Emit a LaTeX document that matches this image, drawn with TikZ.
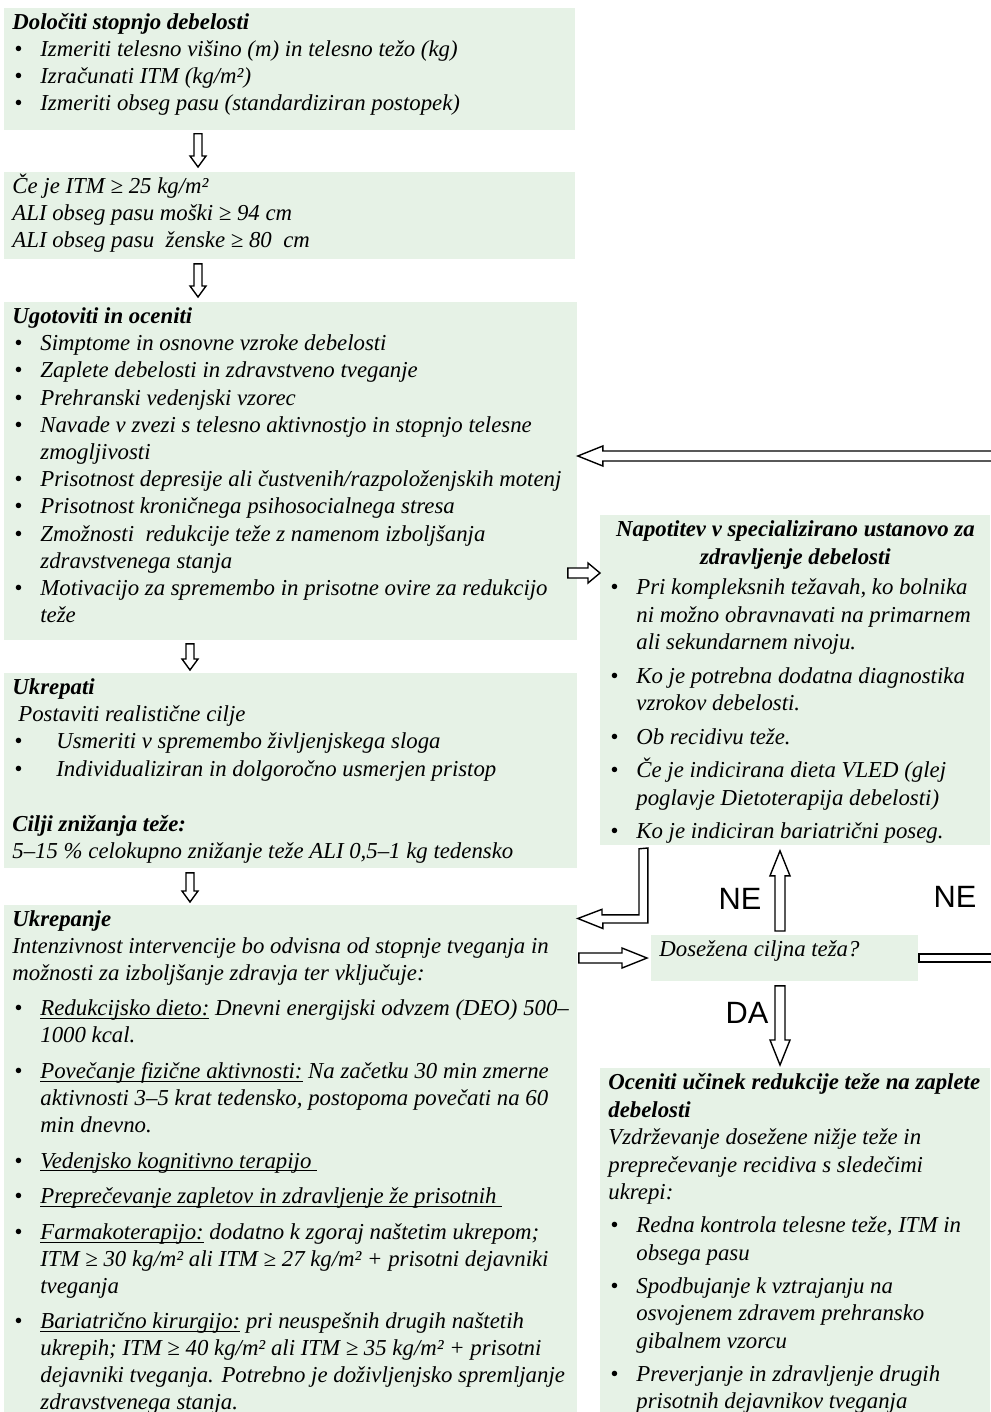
\documentclass[tikz,border=0pt]{standalone}
\usepackage{fontspec}
\setmainfont{Liberation Serif}
\setsansfont{Liberation Sans}
\usetikzlibrary{calc}
\definecolor{BoxGreen}{HTML}{E6F2E6}

\newlength{\bulskip}
\newsavebox{\ulbox}
\newcommand{\uln}[1]{\sbox\ulbox{#1}\makebox[0pt][l]{\rule[-1.6pt]{\wd\ulbox}{0.5pt}}\usebox\ulbox}
\newcommand{\bul}[1]{\par\vspace{\bulskip}\hangindent=14pt\hangafter=1\noindent\makebox[14pt][l]{\hspace{1pt}\textbullet}#1}
\newcommand{\bulw}[1]{\par\vspace{\bulskip}\hangindent=22pt\hangafter=1\noindent\makebox[22pt][l]{\hspace{1pt}\textbullet}#1}
\newcommand{\boxtext}[3]{\parbox[t][#2][t]{#1}{\raggedright\rightskip=-6pt plus 1fil\strut #3}}

\begin{document}
\begin{tikzpicture}[x=0.5pt, y=-0.5pt,
  panel/.style={fill=BoxGreen, anchor=north west, inner xsep=4pt, inner ysep=1pt,
    font=\fontsize{11.4}{13.5}\selectfont\itshape},
  panelm/.style={panel, font=\fontsize{11.4}{13.6}\selectfont\itshape},
  panelr/.style={panel, font=\fontsize{11.4}{13.75}\selectfont\itshape},
  outline/.style={draw=black, fill=white, line width=0.7pt},
  hollow/.style n args={3}{outline, to path={
    let \p1=(\tikztostart), \p2=(\tikztotarget), \p3=($(\p2)!#3!(\p1)$) in
    ($(\p1)!#1!90:(\p2)$) -- ($(\p3)!#1!-90:(\p1)$) -- ($(\p3)!#2!-90:(\p1)$) -- (\p2)
    -- ($(\p3)!#2!90:(\p1)$) -- ($(\p3)!#1!90:(\p1)$) -- ($(\p1)!#1!-90:(\p2)$) -- cycle}},
  thin/.style={hollow={2pt}{4pt}{5.5pt}},
  wide/.style={hollow={2.5pt}{5pt}{12.5pt}},
  yesno/.style={font=\sffamily\fontsize{15.4}{18}\selectfont, inner sep=0pt}
]
\useasboundingbox (0,0) rectangle (990,1412);

% left column
\node[panel] (b1) at (4,8) {\boxtext{277.5pt}{59pt}{\textbf{Določiti stopnjo debelosti}
  \bul{Izmeriti telesno višino (m) in telesno težo (kg)}
  \bul{Izračunati ITM (kg/m²)}
  \bul{Izmeriti obseg pasu (standardiziran postopek)}}};
\node[panel] (b2) at (4,172) {\boxtext{277.5pt}{41.5pt}{Če je ITM ≥ 25 kg/m²\newline
  ALI obseg pasu moški ≥ 94 cm\newline
  ALI obseg pasu \ ženske ≥ 80 \ cm}};
\node[panelm] (b3) at (4,302) {\boxtext{278.5pt}{167pt}{\textbf{Ugotoviti in oceniti}
  \bul{Simptome in osnovne vzroke debelosti}
  \bul{Zaplete debelosti in zdravstveno tveganje}
  \bul{Prehranski vedenjski vzorec}
  \bul{Navade v zvezi s telesno aktivnostjo in stopnjo telesne\newline zmogljivosti}
  \bul{Prisotnost depresije ali čustvenih/razpoloženjskih motenj}
  \bul{Prisotnost kroničnega psihosocialnega stresa}
  \bul{Zmožnosti \ redukcije teže z namenom izboljšanja\newline zdravstvenega stanja}
  \bul{Motivacijo za spremembo in prisotne ovire za redukcijo\newline teže}}};
\node[panelm] (b5) at (4,673) {\boxtext{278.5pt}{95.5pt}{\textbf{Ukrepati}\par
  \hspace*{3pt}Postaviti realistične cilje
  \bulw{Usmeriti v spremembo življenjskega sloga}
  \bulw{Individualiziran in dolgoročno usmerjen pristop}\par
  \vspace{14pt}\textbf{Cilji znižanja teže:}\par
  5–15 \% celokupno znižanje teže ALI 0,5–1 kg tedensko}};
\node[panel] (b6) at (4,905) {\boxtext{278.5pt}{256.5pt}{\setlength{\bulskip}{4.3pt}\textbf{Ukrepanje}\par
  Intenzivnost intervencije bo odvisna od stopnje tveganja in\newline
  možnosti za izboljšanje zdravja ter vključuje:
  \bul{\uln{Redukcijsko dieto:} Dnevni energijski odvzem (DEO) 500–\newline 1000 kcal.}
  \bul{\uln{Povečanje fizične aktivnosti:} Na začetku 30 min zmerne\newline
    aktivnosti 3–5 krat tedensko, postopoma povečati na 60\newline min dnevno.}
  \bul{\uln{Vedenjsko kognitivno terapijo\ }}
  \bul{\uln{Preprečevanje zapletov in zdravljenje že prisotnih\ }}
  \bul{\uln{Farmakoterapijo:} dodatno k zgoraj naštetim ukrepom;\newline
    ITM ≥ 30 kg/m² ali ITM ≥ 27 kg/m² + prisotni dejavniki\newline tveganja}
  \bul{\uln{Bariatrično kirurgijo:} pri neuspešnih drugih naštetih\newline
    ukrepih; ITM ≥ 40 kg/m² ali ITM ≥ 35 kg/m² + prisotni\newline
    dejavniki tveganja. Potrebno je doživljenjsko spremljanje\newline
    zdravstvenega stanja.}}};

% right column
\node[panelr] (b4) at (600,515) {\boxtext{187pt}{163pt}{\setlength{\bulskip}{3pt}%
  {\centering\bfseries Napotitev v specializirano ustanovo za\\ zdravljenje debelosti\par}
  \vspace{-1.5pt}
  \bul{Pri kompleksnih težavah, ko bolnika\newline ni možno obravnavati na primarnem\newline ali sekundarnem nivoju.}
  \bul{Ko je potrebna dodatna diagnostika\newline vzrokov debelosti.}
  \bul{Ob recidivu teže.}
  \bul{Če je indicirana dieta VLED (glej\newline poglavje Dietoterapija debelosti)}
  \bul{Ko je indiciran bariatrični poseg.}}};
\node[panelr] (b7) at (651,935) {\boxtext{125.5pt}{21pt}{Dosežena ciljna teža?}};
\node[panelr] (b8) at (600,1068) {\boxtext{187pt}{178pt}{\setlength{\bulskip}{2.75pt}%
  \textbf{Oceniti učinek redukcije teže na zaplete\newline debelosti}\par
  Vzdrževanje dosežene nižje teže in\newline preprečevanje recidiva s sledečimi\newline ukrepi:
  \bul{Redna kontrola telesne teže, ITM in\newline obsega pasu}
  \bul{Spodbujanje k vztrajanju na\newline osvojenem zdravem prehransko\newline gibalnem vzorcu}
  \bul{Preverjanje in zdravljenje drugih\newline prisotnih dejavnikov tveganja}}};

\node[yesno] (ne1) at (740,899) {NE};
\node[yesno] (ne2) at (955,897) {NE};
\node[yesno] (da)  at (747,1013) {DA};

\coordinate (ax1) at (198,0);
\coordinate (ax2) at (190,0);
\coordinate (ax3) at (780,0);
\coordinate (ly) at (0,573);
\coordinate (my) at (0,958);
\coordinate (lk) at (643,918.5);
\coordinate (edgeT) at (996,456);
\coordinate (edgeB) at (996,958);

% arrows
\draw[thin] ($(b1.south -| ax1)+(0,3)$) to ($(b2.north -| ax1)+(0,-5)$);
\draw[thin] ($(b2.south -| ax1)+(0,4)$) to ($(b3.north -| ax1)+(0,-5)$);
\draw[thin] ($(b3.south -| ax2)+(0,3)$) to ($(b5.north -| ax2)+(0,-3)$);
\draw[thin] ($(b5.south -| ax2)+(0,4)$) to ($(b6.north -| ax2)+(0,-3)$);
\draw[hollow={2.5pt}{5pt}{6pt}] ($(b3.east |- ly)+(-10,0)$) to (b4.west |- ly);
\draw[wide] (edgeT) to (b3.east |- edgeT);
\draw[wide] ($(b6.east |- my)+(1,0)$) to ($(b7.west |- my)+(-4,0)$);
\draw[wide] ($(b7.north -| ax3)+(0,-4)$) to ($(b4.south -| ax3)+(0,5)$);
\draw[wide] ($(b7.south -| ax3)+(0,4)$) to ($(b8.north -| ax3)+(0,-3)$);
\draw[hollow={2pt}{2pt}{0pt}] (b7.east |- my) to (edgeB);
\draw[outline] ($(b4.south -| lk)+(-4,3)$) -- ++(0,66) -- ++(-37,0) -- ++(0,-5.5)
  -- (b6.east |- lk) -- ++(25,10) -- ++(0,-5.5) -- ++(45,0) -- ++(0,-75) -- cycle;
\end{tikzpicture}
\end{document}
